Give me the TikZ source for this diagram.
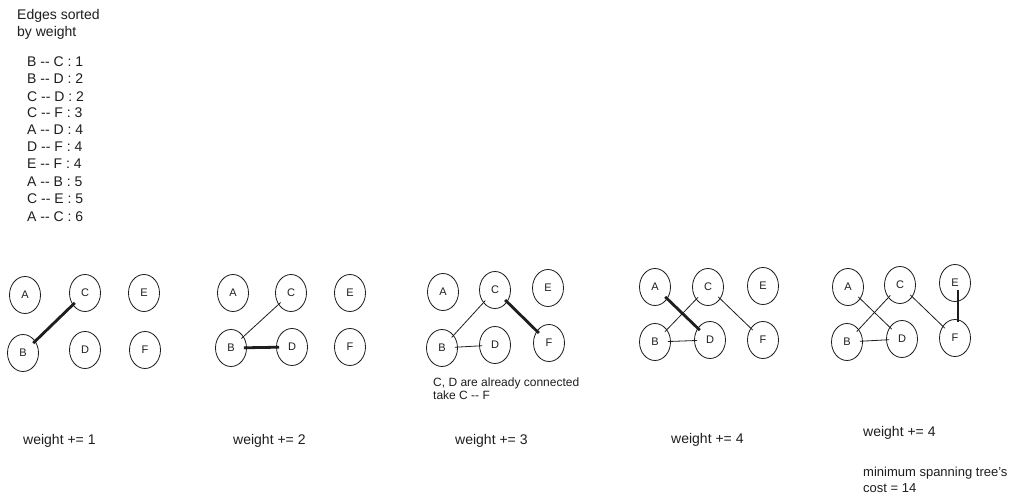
\documentclass[tikz,border=0pt]{standalone}
\usepackage{fontspec}
\setmainfont{Liberation Sans}
\usetikzlibrary{shapes.geometric}
\definecolor{ink}{HTML}{1E1E1E}
\newcommand{\dd}{{-}{-}}
\tikzset{
  v/.style={ellipse, draw=ink, line width=0.8bp, minimum width=31bp, minimum height=37bp, inner sep=0pt, text=ink, font=\fontsize{11bp}{13bp}\selectfont},
  thin/.style={draw=ink, line width=0.8bp, shorten <=-3bp, shorten >=-3bp},
  thick/.style={draw=ink, line width=2.8bp, shorten <=-3bp, shorten >=-3bp},
  txt/.style={anchor=west, inner sep=0pt, text=ink, font=\fontsize{14bp}{16bp}\selectfont},
  small/.style={anchor=west, inner sep=0pt, text=ink, font=\fontsize{12bp}{13bp}\selectfont},
  smallb/.style={anchor=west, inner sep=0pt, text=ink, font=\fontsize{13bp}{14bp}\selectfont},
}
\begin{document}
\begin{tikzpicture}[x=1bp,y=-1bp]
\useasboundingbox[fill=white] (0,0) rectangle (1024,501);
% sorted list
\node[txt] (t1) at (17,16) {Edges sorted};
\node[txt] (t2) at (17,33) {by weight};
\node[txt] (l1) at (27,62) {B \dd{} C : 1};
\node[txt] (l2) at (27,79) {B \dd{} D : 2};
\node[txt] (l3) at (27,97) {C \dd{} D : 2};
\node[txt] (l4) at (27,113) {C \dd{} F : 3};
\node[txt] (l5) at (27,130) {A \dd{} D : 4};
\node[txt] (l6) at (27,147) {D \dd{} F : 4};
\node[txt] (l7) at (27,164) {E \dd{} F : 4};
\node[txt] (l8) at (27,182) {A \dd{} B : 5};
\node[txt] (l9) at (27,199) {C \dd{} E : 5};
\node[txt] (l10) at (27,217) {A \dd{} C : 6};
% graph 1
\node[v] (aA) at (25,295) {A};
\node[v] (aC) at (85,293) {C};
\node[v] (aE) at (144,293) {E};
\node[v] (aB) at (23,353) {B};
\node[v] (aD) at (85,350) {D};
\node[v] (aF) at (145,350) {F};
\draw[thick] (aB) -- (aC);
\node[txt] (w1) at (23,441) {weight += 1};
% graph 2
\node[v] (bA) at (233,293) {A};
\node[v] (bC) at (291,293) {C};
\node[v] (bE) at (350,293) {E};
\node[v] (bB) at (231,348) {B};
\node[v] (bD) at (292,347) {D};
\node[v] (bF) at (350,347) {F};
\draw[thin] (bB) -- (bC);
\draw[thick] (bB) -- (bD);
\node[txt] (w2) at (233,441) {weight += 2};
% graph 3
\node[v] (cA) at (443,292) {A};
\node[v] (cC) at (495,290) {C};
\node[v] (cE) at (548,288) {E};
\node[v] (cB) at (442,348) {B};
\node[v] (cD) at (495,345) {D};
\node[v] (cF) at (549,343) {F};
\draw[thin] (cB) -- (cC);
\draw[thin] (cB) -- (cD);
\draw[thick] (cC) -- (cF);
\node[small] (n1) at (433,383) {C, D are already connected};
\node[small] (n2) at (433,395) {take C \dd{} F};
\node[txt] (w3) at (455,441) {weight += 3};
% graph 4
\node[v] (dA) at (655,287) {A};
\node[v] (dC) at (708,287) {C};
\node[v] (dE) at (763,286) {E};
\node[v] (dB) at (655,342) {B};
\node[v] (dD) at (710,340) {D};
\node[v] (dF) at (763,340) {F};
\draw[thin] (dB) -- (dC);
\draw[thin] (dB) -- (dD);
\draw[thin] (dC) -- (dF);
\draw[thick] (dA) -- (dD);
\node[txt] (w4) at (671,440) {weight += 4};
% graph 5
\node[v] (eA) at (848,287) {A};
\node[v] (eC) at (900,285) {C};
\node[v] (eE) at (955,283) {E};
\node[v] (eB) at (847,342) {B};
\node[v] (eD) at (902,339) {D};
\node[v] (eF) at (955,338) {F};
\draw[thin] (eB) -- (eC);
\draw[thin] (eB) -- (eD);
\draw[thin] (eC) -- (eF);
\draw[thin] (eA) -- (eD);
\coordinate (eE1) at ([shift={(3,7)}]eE.center);
\coordinate (eF1) at ([shift={(3,-16)}]eF.center);
\draw[draw=ink, line width=2.8bp] (eE1) -- (eF1);
\node[txt] (w5) at (863,433) {weight += 4};
\node[smallb] (m1) at (863,473) {minimum spanning tree's};
\node[smallb] (m2) at (863,488) {cost = 14};
\end{tikzpicture}
\end{document}
